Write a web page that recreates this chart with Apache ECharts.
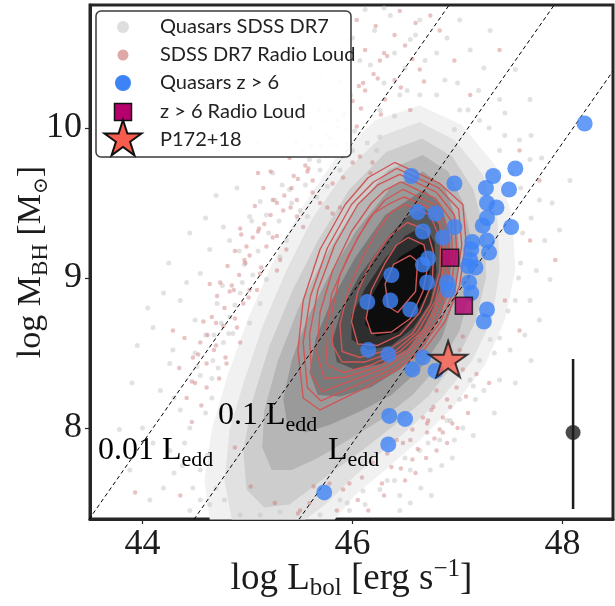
<!DOCTYPE html>
<html><head><meta charset="utf-8">
<script src="https://cdn.jsdelivr.net/npm/echarts@6/dist/echarts.min.js"></script>
<style>html,body{margin:0;padding:0;background:#fff}#c{width:615px;height:606px}</style>
</head><body><div id="c"></div>
<script>
// ---------- DATA ----------
const xTicks = [44, 46, 48];
const yTicks = [8, 9, 10];

// z > 6 quasars [log Lbol, log MBH]
const quasarsZ6 = [[48.21,10.03],[46.56,9.68],[46.97,9.63],[47.34,9.68],[47.55,9.73],[47.27,9.60],[47.49,9.59],[47.28,9.50],[47.37,9.47],[47.28,9.40],[47.24,9.35],[47.51,9.34],[46.62,9.44],[46.79,9.43],[46.67,9.31],[46.97,9.34],[46.86,9.27],[47.14,9.24],[47.28,9.25],[47.13,9.19],[47.30,9.17],[46.72,9.13],[46.67,9.09],[47.12,9.12],[47.10,9.08],[47.17,9.07],[46.37,9.02],[46.71,8.97],[46.90,8.97],[46.91,8.92],[47.11,8.97],[47.13,8.90],[46.14,8.84],[46.36,8.85],[46.55,8.79],[47.28,8.79],[47.25,8.71],[46.15,8.52],[46.34,8.49],[46.67,8.47],[46.57,8.39],[46.79,8.38],[46.35,8.08],[46.50,8.06],[46.34,7.89],[45.73,7.57]];
const radioLoudZ6 = [[46.93,9.135],[47.06,8.815]];
const p172 = [[46.91,8.46]];
const errL = 48.1, errM = 7.97, errLow = 7.46, errHigh = 8.46;

// SDSS DR7 quasars (outskirts of the distribution)
const sdssDR7 = [[45.24,9.70],[45.12,9.51],[45.02,9.41],[44.77,9.34],[44.55,9.03],[44.42,8.97],[44.10,8.67],[44.29,8.52],[44.26,8.43],[44.71,8.83],[44.83,8.74],[44.93,8.90],[45.18,8.99],[45.37,9.25],[45.57,9.41],[45.66,9.54],[45.76,9.61],[45.88,9.72],[46.00,9.85],[46.14,9.90],[46.23,9.85],[46.26,9.94],[45.69,9.72],[45.50,9.45],[45.31,9.14],[45.12,8.83],[45.02,8.70],[44.86,8.63],[44.77,8.57],[44.67,8.45],
[46.07,10.45],[46.21,10.65],[46.36,10.75],[46.55,10.59],[46.69,10.45],[46.88,10.32],[47.02,10.12],[47.12,10.52],[47.31,10.65],[46.45,10.22],[46.26,10.12],[46.64,10.22],[46.97,9.99],[47.21,10.05],[47.40,10.19],[46.12,10.79],[46.64,10.72],[47.02,10.72],[47.55,10.39],[47.69,10.19],
[47.59,9.92],[47.69,9.79],[47.78,9.52],[47.83,9.25],[47.88,8.99],[47.69,8.85],[47.64,8.62],[47.50,8.52],[47.40,8.32],[47.78,8.72],[47.97,9.32],[48.07,9.65],
[47.12,8.32],[47.21,8.45],[47.31,8.59],[47.02,8.19],[46.93,8.05],[46.83,7.92],[46.64,7.85],[46.55,7.72],[46.40,7.65],[46.26,7.59],[46.12,7.49],[45.97,7.45],[47.17,8.19],[46.97,7.92],[46.74,7.72],[46.45,7.55],
[44.93,7.42],[45.12,7.42],[45.31,7.44],[45.69,7.42],[45.88,7.52],[44.78,7.52],[44.64,7.49],
[43.78,7.99],[43.88,7.72],[44.07,7.52],[44.26,7.85],[44.36,8.12],[44.55,7.72],[44.17,8.25],[44.55,7.52],
[44.36,8.85],[44.50,8.72],[44.64,9.19],[44.83,9.25],[45.40,9.59],[45.93,9.99],[45.78,9.89],[45.59,9.79],[45.26,9.52],[44.97,9.09],
[46.30,10.30],[46.50,10.40],[46.80,10.50],[47.00,10.30],[47.20,10.25],[47.30,10.00],[47.45,9.95],[47.60,9.60],[47.70,9.40],[47.60,9.10],[47.55,8.85],[47.40,8.60],[47.25,8.25],[47.05,8.00],[46.85,7.75],[46.65,7.60],[46.45,7.45],[44.45,7.45],[44.30,7.70],[44.45,8.00],[44.55,8.35],[44.60,8.10],[44.40,7.90],[44.00,8.00],[43.90,8.30],[44.20,8.90],[44.60,9.40],[44.90,9.60],[45.10,9.90],[45.50,10.20],[45.70,10.35],[46.00,10.60],[46.30,10.80],
[44.68,8.62],[44.75,8.70],[44.88,8.82],[44.95,8.97],[45.05,9.02],[45.10,9.18],[45.20,9.30],[45.30,9.38],[45.42,9.50],[45.55,9.62],[45.68,9.78],[45.85,9.88],[46.02,9.98],[46.40,10.08],[46.52,10.25],[46.80,10.22],[47.10,10.12],[47.40,9.85],[47.52,9.70],[47.62,9.30],[47.58,9.00],[47.48,8.78],[47.35,8.50],[47.15,8.28],[46.90,8.05],[46.72,7.90],[46.50,7.80],[46.33,7.65],[46.10,7.58],[45.95,7.50],[44.70,7.60],[44.62,7.82],[44.66,8.20],[44.72,8.40],[44.50,8.50],[44.30,8.20],
[44.52,8.41],[44.66,8.33],[44.60,8.62],[44.82,8.63],[44.76,8.95],[44.92,9.18],[45.04,9.38],[45.18,9.42],[45.33,9.62],[45.52,9.85],[45.72,10.05],[45.98,10.22],[46.17,10.42],[46.40,10.50],[46.60,10.62],[46.90,10.60],[47.25,10.40],[47.45,10.10],[47.70,9.95],[47.80,9.80],[47.90,9.50],[47.75,9.05],[47.70,8.45],[47.55,8.30],[47.35,8.10],[47.15,7.95],[46.95,7.80],[46.75,7.55],[46.55,7.50],[44.20,7.60],[44.10,7.90],[44.38,7.75],[44.48,7.60],[43.95,8.55],[44.05,8.80],[44.25,9.10],[44.45,9.30],[44.70,9.55]];

// SDSS DR7 radio loud quasars
const sdssRL = [[45.57,9.71],[45.62,9.57],[45.47,9.52],[44.93,9.33],[44.99,9.21],[45.02,9.15],[44.74,8.97],[44.83,8.91],[44.55,8.57],[44.48,8.47],[44.29,8.65],[45.18,9.21],[45.24,9.27],[45.31,9.12],[45.09,8.92],[45.34,9.45],[45.69,9.50],[45.76,9.47],[45.81,9.43],[45.88,9.47],[46.00,9.77],[46.07,9.81],[46.19,9.77],[46.17,9.70],[45.91,9.67],[45.81,9.63],[45.62,9.65],[45.47,9.41],[45.53,9.34],[45.37,9.19],[45.28,9.05],[45.12,9.03],[45.02,8.92],[44.96,8.83],[44.90,8.67],[44.93,8.57],[44.80,8.43],[44.61,8.43],
[45.78,10.12],[45.86,10.01],[46.04,10.01],[45.95,9.90],[46.04,10.72],[45.97,10.59],[46.26,10.45],[46.40,10.32],[46.50,10.55],[46.64,10.39],[46.83,10.65],[46.97,10.45],[47.12,10.22],[46.31,10.19],[46.12,10.25],[46.55,10.12],[46.74,10.75],[47.40,10.52],
[47.59,9.85],[47.78,9.65],[47.93,9.12],[47.69,9.25],[47.45,8.85],[47.59,8.65],
[46.80,8.25],[46.77,8.14],[46.67,8.07],[46.72,8.05],[46.57,7.99],[46.55,7.92],[46.42,7.92],[46.33,7.83],[46.19,7.77],[46.09,7.67],[45.97,7.63],[45.91,7.59],[46.90,8.19],[46.99,8.27],[47.05,8.39],[47.02,8.52],[46.83,7.99],[46.86,8.07],[46.93,8.14],[46.71,7.97],[46.48,7.90],[45.78,7.63],[45.59,7.50],[45.50,7.45],[47.05,8.61],[46.96,8.43],
[44.47,8.04],[43.93,7.57],[44.36,7.55],[44.88,7.87],[45.03,7.61],[45.26,7.50],[45.48,7.43],[45.63,7.61],[46.86,7.97],[46.71,8.03],[46.75,8.12],[46.57,7.79],[46.37,7.74],
[44.62,8.62],[44.70,8.70],[44.78,8.80],[44.66,8.74],[44.85,8.95],[44.92,9.02],[44.98,9.10],[45.05,9.27],[45.10,9.31],[45.16,9.36],[45.22,9.42],[45.28,9.50],[45.35,9.55],[45.42,9.60],[45.48,9.66],[45.55,9.75],[45.64,9.82],[45.70,9.88],[45.76,9.95],[45.85,10.05],[45.92,10.10],[46.00,10.18],[46.10,10.30],[46.20,10.36],[46.30,10.50],[46.40,10.62],[46.60,10.70],[44.50,8.30],[44.42,8.20],[44.56,8.15],[44.40,8.60],[44.35,8.40],[44.70,8.55],[44.64,8.96],[44.88,9.18],[45.15,9.60],[45.40,9.80],[45.60,10.00],[45.10,9.70],
[47.30,8.30],[47.10,8.10],[46.90,7.90],[46.70,7.80],[46.50,7.65],[46.30,7.55],[46.15,7.45],[47.00,8.00],[46.80,7.85],[46.60,7.70],
[44.47,8.31],[44.61,8.27],[44.73,8.33],[44.53,8.49],[44.68,8.52],[44.79,8.47],[44.58,8.71],[44.77,8.68],[44.88,8.73],[44.71,8.88],[44.87,8.92],[45.01,8.87],[44.81,9.08],[44.97,9.12],[45.13,9.07],[44.94,9.29],[45.11,9.33],[45.28,9.28],[45.07,9.48],[45.24,9.52],[45.41,9.47],[45.22,9.71],[45.44,9.68],[45.58,9.73],[45.46,9.91],[45.61,9.88],[45.79,9.93],[45.68,10.12],[45.91,10.08],[46.08,10.13],[46.27,10.09],[45.88,10.31],[46.06,10.28],[46.24,10.33],[46.46,10.27],[46.68,10.31],[46.12,10.52],[46.33,10.48],[46.57,10.46],[46.22,10.68],[46.45,10.78],
[47.18,8.36],[47.08,8.21],[46.95,8.03],[46.78,7.93],[46.62,7.86],[46.46,7.73],[46.28,7.63],[46.05,7.52],[45.85,7.45]];

// Eddington-ratio lines (endpoints)
const eddLine001 = [[43.49,7.39],[46.92,10.82]];
const eddLine01  = [[44.49,7.39],[47.92,10.82]];
const eddLine1   = [[45.49,7.39],[48.48,10.38]];

// density contours of SDSS DR7 (filled, outer -> inner)
const greyLevels = [
 [[46.64,10.15],[47.04,10.02],[47.36,9.75],[47.52,9.42],[47.55,9.05],[47.45,8.72],[47.26,8.42],[46.97,8.15],[46.64,7.92],[46.31,7.72],[46.02,7.55],[45.83,7.39],[44.64,7.39],[44.59,7.65],[44.66,7.99],[44.81,8.35],[45.00,8.72],[45.23,9.09],[45.50,9.45],[45.83,9.79],[46.21,10.05]],
 [[46.64,10.04],[46.97,9.92],[47.24,9.69],[47.38,9.39],[47.40,9.05],[47.33,8.73],[47.14,8.45],[46.85,8.20],[46.53,7.99],[46.21,7.80],[45.96,7.64],[45.74,7.49],[45.55,7.39],[44.85,7.39],[44.78,7.65],[44.83,7.99],[44.97,8.32],[45.15,8.69],[45.37,9.05],[45.62,9.40],[45.93,9.71],[46.29,9.95]],
 [[46.66,9.93],[46.95,9.81],[47.15,9.59],[47.26,9.31],[47.27,9.00],[47.17,8.71],[46.98,8.44],[46.72,8.21],[46.40,8.02],[46.09,7.85],[45.83,7.72],[45.59,7.59],[45.40,7.49],[45.16,7.47],[44.99,7.59],[44.96,7.85],[45.05,8.19],[45.21,8.55],[45.43,8.92],[45.67,9.25],[45.97,9.59],[46.32,9.84]],
 [[46.67,9.82],[46.91,9.71],[47.06,9.49],[47.14,9.22],[47.12,8.92],[47.02,8.65],[46.83,8.42],[46.57,8.22],[46.26,8.05],[45.96,7.92],[45.67,7.80],[45.42,7.72],[45.23,7.72],[45.14,7.87],[45.16,8.12],[45.29,8.45],[45.48,8.79],[45.71,9.11],[45.99,9.43],[46.34,9.72]],
 [[46.67,9.71],[46.88,9.60],[46.99,9.39],[47.02,9.12],[46.97,8.85],[46.85,8.60],[46.64,8.39],[46.37,8.22],[46.07,8.11],[45.78,8.02],[45.55,7.97],[45.38,8.02],[45.34,8.19],[45.42,8.45],[45.57,8.73],[45.78,9.02],[46.04,9.32],[46.36,9.60]],
 [[46.68,9.59],[46.85,9.48],[46.93,9.27],[46.93,9.02],[46.85,8.77],[46.69,8.55],[46.45,8.39],[46.17,8.27],[45.88,8.21],[45.67,8.22],[45.59,8.37],[45.65,8.60],[45.80,8.85],[46.02,9.13],[46.31,9.42]],
 [[46.68,9.47],[46.82,9.36],[46.86,9.15],[46.83,8.92],[46.72,8.71],[46.53,8.53],[46.28,8.43],[46.02,8.39],[45.85,8.44],[45.81,8.59],[45.90,8.80],[46.07,9.02],[46.31,9.25],[46.50,9.40]],
 [[46.68,9.35],[46.78,9.24],[46.80,9.04],[46.74,8.84],[46.58,8.67],[46.37,8.55],[46.15,8.52],[45.99,8.59],[45.99,8.75],[46.12,8.93],[46.31,9.13],[46.50,9.28]],
 [[46.66,9.23],[46.74,9.12],[46.72,8.92],[46.60,8.75],[46.43,8.64],[46.23,8.61],[46.12,8.69],[46.15,8.84],[46.28,9.00],[46.45,9.14]]
];
// density contours of SDSS DR7 radio loud (lines, outer -> inner)
const redLevels = [
 [[46.40,9.77],[46.83,9.63],[47.05,9.49],[47.08,9.25],[47.02,8.95],[46.88,8.71],[46.69,8.53],[46.43,8.39],[46.07,8.25],[45.69,8.12],[45.53,8.20],[45.48,8.52],[45.53,8.85],[45.69,9.19],[45.93,9.49],[46.15,9.67]],
 [[46.42,9.73],[46.82,9.60],[47.01,9.46],[47.04,9.22],[46.98,8.94],[46.83,8.70],[46.63,8.52],[46.37,8.39],[46.02,8.28],[45.70,8.18],[45.57,8.27],[45.53,8.57],[45.60,8.88],[45.76,9.20],[45.99,9.49],[46.20,9.64]],
 [[46.45,9.69],[46.80,9.57],[46.97,9.42],[46.99,9.19],[46.93,8.92],[46.78,8.69],[46.57,8.52],[46.31,8.40],[45.97,8.31],[45.71,8.24],[45.61,8.35],[45.59,8.62],[45.67,8.92],[45.83,9.22],[46.05,9.49],[46.24,9.62]],
 [[46.46,9.64],[46.79,9.53],[46.94,9.38],[46.95,9.15],[46.88,8.90],[46.72,8.67],[46.51,8.51],[46.25,8.41],[45.94,8.34],[45.73,8.33],[45.66,8.50],[45.69,8.77],[45.81,9.05],[45.99,9.31],[46.18,9.50],[46.30,9.58]],
 [[46.48,9.59],[46.78,9.49],[46.91,9.33],[46.91,9.11],[46.83,8.87],[46.67,8.65],[46.45,8.51],[46.18,8.42],[45.91,8.37],[45.76,8.42],[45.74,8.62],[45.80,8.89],[45.96,9.15],[46.15,9.39],[46.31,9.52]],
 [[46.49,9.54],[46.76,9.46],[46.88,9.29],[46.87,9.08],[46.79,8.85],[46.62,8.64],[46.40,8.51],[46.12,8.44],[45.90,8.44],[45.81,8.55],[45.80,8.76],[45.88,9.02],[46.05,9.27],[46.20,9.43],[46.34,9.49]],
 [[46.50,9.49],[46.74,9.42],[46.84,9.25],[46.83,9.04],[46.74,8.82],[46.57,8.63],[46.34,8.52],[46.07,8.47],[45.90,8.51],[45.88,8.69],[45.96,8.92],[46.09,9.13],[46.24,9.32],[46.37,9.44]],
 [[46.52,9.37],[46.71,9.32],[46.77,9.17],[46.76,8.97],[46.64,8.77],[46.45,8.62],[46.24,8.55],[46.05,8.56],[45.99,8.71],[46.05,8.91],[46.18,9.11],[46.34,9.27]],
 [[46.53,9.27],[46.68,9.22],[46.72,9.09],[46.67,8.91],[46.55,8.73],[46.37,8.64],[46.18,8.63],[46.13,8.73],[46.18,8.92],[46.31,9.10],[46.42,9.22]],
 [[46.55,9.15],[46.62,9.11],[46.60,8.91],[46.43,8.77],[46.34,8.81],[46.31,8.96],[46.39,9.09]]
];

// ---------- STYLE ----------
const SERIF = "'Liberation Serif','DejaVu Serif',serif";
const SANS = "Lato,'Noto Sans',sans-serif";
const INK = '#1c1c1c';
const BLUE = '#3d83f6', MAG = '#b5006e', STAR = '#f75c4c';
const greyColors = ['#f1f1f1','#e1e1e1','#cdcdcd','#b6b6b6','#9a9a9a','#7a7a7a','#555555','#2e2e2e','#0d0d0d'];
const RED = '#cf5656';

function starPts(cx, cy, R) {
  const pts = [];
  for (let i = 0; i < 10; i++) {
    const a = -Math.PI / 2 + i * Math.PI / 5;
    const r = i % 2 === 0 ? R : R * 0.382;
    pts.push([cx + r * Math.cos(a), cy + r * Math.sin(a)]);
  }
  return pts;
}
const starPath = 'path://' + starPts(100, 100, 100).map((p, i) => (i ? 'L' : 'M') + p[0].toFixed(2) + ' ' + p[1].toFixed(2)).join(' ') + 'Z';

const chart = echarts.init(document.getElementById('c'), null, {renderer: 'canvas'});

const series = [];
series.push({
  type:'custom', z:1, silent:true,
  data: greyLevels.map((poly, i) => ({value:[poly[0][0], poly[0][1], i]})),
  renderItem: (params, api) => {
    const i = api.value(2);
    const pts = greyLevels[i].map(p => api.coord(p));
    return {type:'polygon', shape:{points: pts}, style:{fill: greyColors[i], stroke: null}};
  }
});
series.push({type:'scatter', data: sdssDR7, symbolSize: 5, itemStyle:{color:'rgba(195,195,195,0.6)'}, silent:true, z:2});
series.push({type:'scatter', data: sdssRL, symbolSize: 4.5, itemStyle:{color:'rgba(200,105,105,0.5)'}, silent:true, z:2});
redLevels.forEach(poly => {
  series.push({type:'line', data: poly.concat([poly[0]]), symbol:'none', silent:true, z:3,
    lineStyle:{color: RED, width: 1.4}});
});
[eddLine001, eddLine01, eddLine1].forEach(l => {
  series.push({type:'line', data: l, symbol:'none', silent:true, z:4, clip:true,
    lineStyle:{color:'#000', width:1, type:[4,3]}});
});
series.push({type:'scatter', data: quasarsZ6, symbolSize: 16, itemStyle:{color: BLUE}, z:5});
series.push({type:'scatter', data: radioLoudZ6, symbol:'rect', symbolSize: 17, itemStyle:{color: MAG, borderColor:'#111', borderWidth:1.5}, z:6});
series.push({type:'scatter', data: p172, symbol: starPath, symbolSize: 38, symbolKeepAspect:true, itemStyle:{color: STAR, borderColor:'#111', borderWidth:2}, z:7});
series.push({type:'line', data: [[errL, errLow],[errL, errHigh]], symbol:'none', z:6, lineStyle:{color: INK, width:2.5}});
series.push({type:'scatter', data: [[errL, errM]], symbolSize: 15, itemStyle:{color: INK}, z:7});

const lbl = (t, sub) => '{m|' + t + '}{s|' + sub + '}';
const lblRich = {
  m:{fontFamily:SERIF, fontSize:32, lineHeight:40, color:INK},
  s:{fontFamily:SERIF, fontSize:22, lineHeight:18, verticalAlign:'bottom', color:INK}
};

const legendRows = [27, 55, 83, 112, 139.5];
const legendText = ['Quasars SDSS DR7', 'SDSS DR7 Radio Loud', 'Quasars z > 6', 'z > 6 Radio Loud', 'P172+18'];
const graphic = [
  {type:'text', style:{x:98, y:431, text: lbl('0.01 L','edd'), rich: lblRich, verticalAlign:'top'}, z:20},
  {type:'text', style:{x:218, y:396, text: lbl('0.1 L','edd'), rich: lblRich, verticalAlign:'top'}, z:20},
  {type:'text', style:{x:328, y:431, text: lbl('L','edd'), rich: lblRich, verticalAlign:'top'}, z:20},
  {type:'rect', shape:{x:96, y:11, width:255, height:146, r:5}, style:{fill:'rgba(255,255,255,0.92)', stroke:'#3a3a3a', lineWidth:1.5}, z:30},
  {type:'circle', shape:{cx:123, cy:legendRows[0], r:6}, style:{fill:'#dedede'}, z:31},
  {type:'circle', shape:{cx:123, cy:legendRows[1], r:5.5}, style:{fill:'#dea8a8'}, z:31},
  {type:'circle', shape:{cx:123, cy:legendRows[2], r:8}, style:{fill:BLUE}, z:31},
  {type:'rect', shape:{x:114.5, y:legendRows[3]-8.5, width:17, height:17}, style:{fill:MAG, stroke:'#111', lineWidth:1.5}, z:31},
  {type:'polygon', shape:{points: starPts(123, legendRows[4], 19.5)}, style:{fill:STAR, stroke:'#111', lineWidth:2}, z:32}
];
legendText.forEach((t, i) => {
  graphic.push({type:'text', style:{x:160, y:legendRows[i], text:t, fontFamily:SANS, fontSize:20, fill:'#222', verticalAlign:'middle', align:'left'}, z:31});
});

chart.setOption({
  animation:false,
  backgroundColor:'#fff',
  grid:{left:90, right:2, top:5, bottom:87, outerBoundsMode:'none', containLabel:false, show:true, borderColor:'#262626', borderWidth:3, backgroundColor:'transparent'},
  xAxis:{
    type:'value', min:43.5, max:48.48,
    name:'{m|log L}{s|bol}{m| [erg s}{p|\u22121}{m|]}', nameLocation:'middle', nameGap:38, nameMoveOverlap:false,
    nameTextStyle:{rich:{
      m:{fontFamily:SERIF, fontSize:37, lineHeight:44, color:INK},
      s:{fontFamily:SERIF, fontSize:25, lineHeight:19, verticalAlign:'bottom', color:INK},
      p:{fontFamily:SERIF, fontSize:25, lineHeight:24, verticalAlign:'top', color:INK}}},
    axisLine:{onZero:false, lineStyle:{color:'#262626', width:3}},
    axisTick:{customValues:xTicks, length:5, lineStyle:{color:'#262626', width:1.2}},
    axisLabel:{customValues:xTicks, fontFamily:SERIF, fontSize:36, color:INK, margin:8},
    splitLine:{show:false}
  },
  yAxis:{
    type:'value', min:7.393, max:10.82,
    name:'{m|log M}{s|BH}{m| [M}{o|\u2299}{m|]}', nameLocation:'middle', nameGap:38, nameMoveOverlap:false,
    nameTextStyle:{rich:{
      m:{fontFamily:SERIF, fontSize:34, lineHeight:42, color:INK},
      s:{fontFamily:SERIF, fontSize:23, lineHeight:18, verticalAlign:'bottom', color:INK},
      o:{fontFamily:"'DejaVu Serif',serif", fontSize:20, lineHeight:18, verticalAlign:'bottom', color:INK}}},
    axisLine:{onZero:false, lineStyle:{color:'#262626', width:3}},
    axisTick:{customValues:yTicks, length:5, lineStyle:{color:'#262626', width:1.2}},
    axisLabel:{customValues:yTicks, fontFamily:SERIF, fontSize:36, color:INK, margin:8},
    splitLine:{show:false}
  },
  graphic: graphic,
  series: series
});
</script></body></html>
